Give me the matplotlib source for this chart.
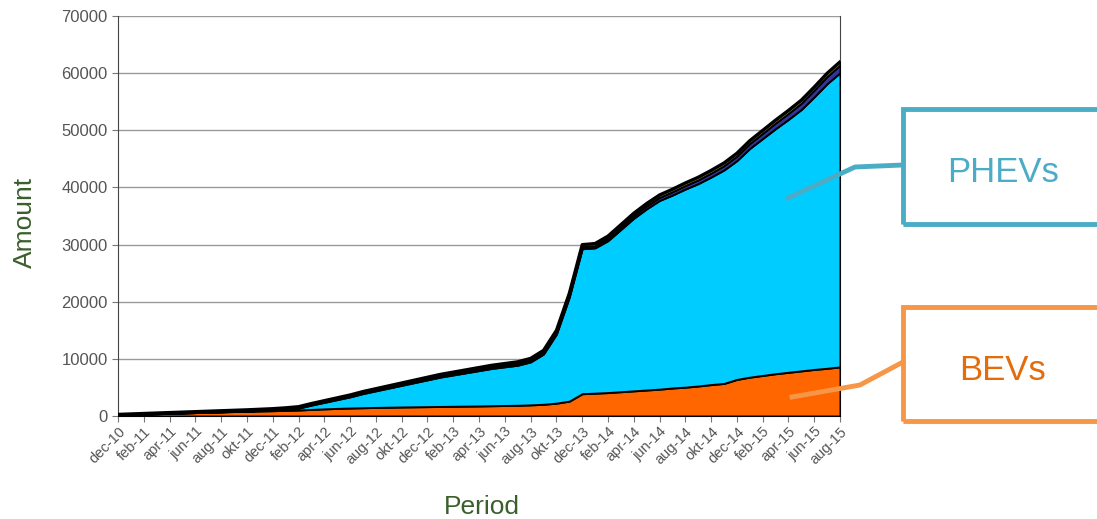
import numpy as np
import matplotlib.pyplot as plt
from matplotlib.lines import Line2D
from matplotlib.patches import Rectangle

# monthly cumulative counts, dec-10 .. aug-15
bev = [150, 250, 330, 400, 470, 540, 600, 660, 720, 780,
       830, 880, 930, 990, 1050, 1150, 1250, 1330, 1400, 1450,
       1500, 1540, 1580, 1610, 1640, 1670, 1700, 1730, 1760, 1800,
       1840, 1880, 1950, 2050, 2250, 2600, 3900, 4000, 4100, 4250,
       4400, 4550, 4700, 4900, 5050, 5250, 5500, 5700, 6400, 6800,
       7100, 7400, 7650, 7900, 8150, 8350, 8600]
total = [300, 380, 460, 540, 620, 700, 780, 860, 940, 1020,
         1100, 1200, 1300, 1450, 1650, 2200, 2700, 3200, 3700, 4300,
         4800, 5300, 5800, 6300, 6800, 7300, 7700, 8100, 8500, 8900,
         9200, 9500, 10100, 11500, 15000, 21500, 30000, 30200, 31500, 33500,
         35500, 37200, 38700, 39700, 40800, 41800, 43000, 44300, 46000, 48200,
         50000, 51800, 53500, 55300, 57600, 60000, 62000]
other1 = [40, 45, 50, 55, 60, 65, 70, 75, 80, 85,
          90, 95, 100, 110, 120, 130, 140, 150, 160, 170,
          180, 190, 200, 210, 220, 230, 240, 250, 260, 270,
          280, 290, 300, 310, 320, 330, 350, 380, 410, 440,
          470, 500, 540, 580, 620, 660, 700, 750, 800, 860,
          920, 980, 1040, 1100, 1180, 1260, 1350]
other2 = [80, 85, 90, 95, 100, 105, 110, 115, 120, 125,
          130, 135, 140, 145, 150, 160, 170, 180, 190, 200,
          210, 220, 230, 240, 250, 260, 270, 280, 290, 300,
          310, 320, 330, 340, 350, 360, 380, 390, 400, 410,
          420, 430, 440, 450, 460, 470, 480, 490, 500, 510,
          520, 530, 540, 550, 560, 570, 580]

tick_labels = ['dec-10', 'feb-11', 'apr-11', 'jun-11', 'aug-11', 'okt-11',
               'dec-11', 'feb-12', 'apr-12', 'jun-12', 'aug-12', 'okt-12',
               'dec-12', 'feb-13', 'apr-13', 'jun-13', 'aug-13', 'okt-13',
               'dec-13', 'feb-14', 'apr-14', 'jun-14', 'aug-14', 'okt-14',
               'dec-14', 'feb-15', 'apr-15', 'jun-15', 'aug-15']

bev = np.array(bev, float)
other1 = np.array(other1, float)
other2 = np.array(other2, float)
phev = np.array(total, float) - bev - other1 - other2
months = np.arange(len(bev))

grey = '#555555'
green = '#3A5F2C'

fig = plt.figure(figsize=(10.97, 5.19), dpi=100)
ax = fig.add_axes([118/1097, 1 - 416/519, (840-118)/1097, 400/519])

ax.stackplot(months, bev, phev, other1, other2,
             colors=['#FF6600', '#00CCFF', '#333399', '#A8A830'],
             edgecolor='black', linewidth=1.4, zorder=3)
# heavier outline on the top of the stack
ax.plot(months, total, color='black', lw=2.2, zorder=4)

ax.set_xlim(0, len(bev) - 1)
ax.set_ylim(0, 70000)
ax.set_yticks(np.arange(0, 70001, 10000))
ax.yaxis.grid(True, color='#9A9A9A', linewidth=1)
ax.set_axisbelow(True)
ax.set_xticks(months[::2])
ax.set_xticklabels(tick_labels, rotation=45, ha='right', rotation_mode='anchor')
ax.tick_params(axis='both', colors='#777777', labelcolor=grey, labelsize=12,
               length=4, direction='out')
ax.tick_params(axis='x', labelsize=10.5, pad=2)
for lab in ax.get_xticklabels() + ax.get_yticklabels():
    lab.set_family('Liberation Sans')
ax.spines['top'].set_visible(False)
for s in ['left', 'bottom', 'right']:
    ax.spines[s].set_color('#444444')
fig.text(25/1097, 1 - 222/519, 'Amount', fontsize=19, color=green, rotation=90,
         family='Liberation Sans', ha='center', va='center')
fig.text(482/1097, 1 - 507/519, 'Period', fontsize=19, color=green,
         family='Liberation Sans', ha='center', va='center')

def px(x, y):
    return x / 1097, 1 - y / 519

# callouts
blue = '#4BACC6'
orange = '#F79646'
fig.add_artist(Line2D(*zip(px(788, 198), px(855, 167), px(903, 165)),
                      transform=fig.transFigure, color=blue, lw=3.5))
fig.add_artist(Rectangle(px(903, 224), 220/1097, 115/519, transform=fig.transFigure,
                         fill=False, edgecolor=blue, lw=3.5, clip_on=False))
fig.text(1003/1097, 1 - 172/519, 'PHEVs', fontsize=25, color=blue,
         family='Liberation Sans', ha='center', va='center')

fig.add_artist(Line2D(*zip(px(792, 397), px(860, 385), px(903, 362)),
                      transform=fig.transFigure, color=orange, lw=3.5))
fig.add_artist(Rectangle(px(903, 421), 220/1097, 114/519, transform=fig.transFigure,
                         fill=False, edgecolor=orange, lw=3.5, clip_on=False))
fig.text(1003/1097, 1 - 370/519, 'BEVs', fontsize=25, color='#E46C0A',
         family='Liberation Sans', ha='center', va='center')

fig.savefig('out.png', dpi=100)
